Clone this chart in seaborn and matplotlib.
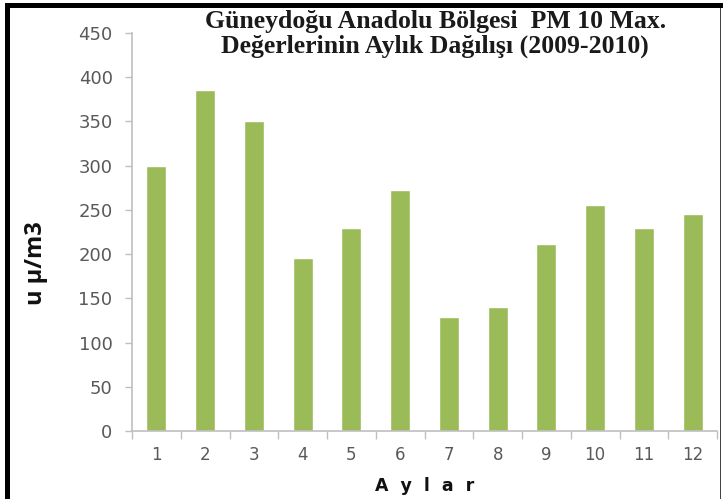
import pandas as pd
import matplotlib.pyplot as plt
import seaborn as sns
from matplotlib.patches import Rectangle

sns.set_theme(style='white')
plt.rcParams['font.family'] = ['DejaVu Sans']

months = ['1', '2', '3', '4', '5', '6', '7', '8', '9', '10', '11', '12']
pm10_max = [300, 385, 350, 196, 230, 272, 129, 140, 211, 256, 230, 245]

df = pd.DataFrame({'ay': months, 'deger': pm10_max})

fig = plt.figure(figsize=(7.23, 4.99), dpi=100)
ax = fig.add_axes([0.1826, 0.1363, 0.8091, 0.7976])
sns.barplot(data=df, x='ay', y='deger', color='#9bbb59', saturation=1,
            width=0.41, ax=ax)

ax.set_ylim(0, 450)
ax.set_xlim(-0.5, 11.5)
ax.set_yticks(range(0, 451, 50))

grey = '#bfbfbf'
for s in ['top', 'right']:
    ax.spines[s].set_visible(False)
for s in ['left', 'bottom']:
    ax.spines[s].set_color(grey)
    ax.spines[s].set_linewidth(1.2)

ax.tick_params(axis='y', which='major', direction='out', length=5, width=1,
               color=grey, left=True, pad=9, labelsize=13, labelcolor='#595959')
ax.tick_params(axis='x', which='major', length=0, pad=11, labelsize=12,
               labelcolor='#595959')
ax.set_xticks([i - 0.5 for i in range(13)], minor=True)
ax.tick_params(axis='x', which='minor', direction='out', length=6, width=1,
               color=grey, bottom=True)

ax.set_xlabel('')
ax.set_ylabel('')
fig.text(0.587, 0.026, 'A  y  l  a  r', ha='center', va='center',
         fontsize=12.5, fontweight='bold', color='#111111')
fig.text(0.050, 0.473, 'u µ/m3', ha='center', va='center', rotation=90,
         fontsize=17, fontweight='bold', family='Open Sans', color='#111111')

fig.text(0.602, 0.932, 'Güneydoğu Anadolu Bölgesi  PM 10 Max.\nDeğerlerinin Aylık Dağılışı (2009-2010)',
         ha='center', va='center', fontsize=18.5, fontweight='bold',
         family='Liberation Serif', color='#1a1a1a', linespacing=1.05)

# frame of the original screenshot: thick black top/left, thin grey right
W, H = 723, 499
fig.patches.append(Rectangle((5 / W, 0), 5 / W, 1 - 3 / H, transform=fig.transFigure,
                             facecolor='black', edgecolor='none', zorder=5))
fig.patches.append(Rectangle((5 / W, 1 - 8 / H), 1 - 5 / W, 5 / H, transform=fig.transFigure,
                             facecolor='black', edgecolor='none', zorder=5))
fig.patches.append(Rectangle((720 / W, 0), 1.2 / W, 1 - 8 / H, transform=fig.transFigure,
                             facecolor='#444444', edgecolor='none', zorder=5))

fig.savefig('out.png', dpi=100)
